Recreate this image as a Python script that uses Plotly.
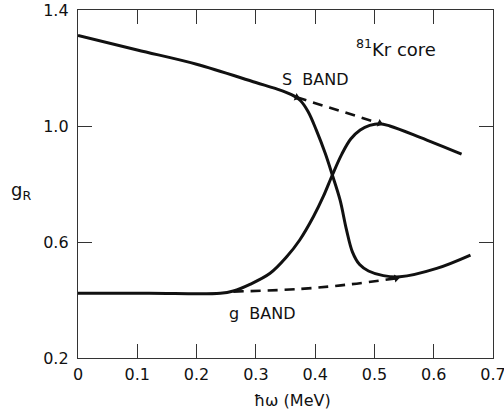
import plotly.graph_objects as go

# Curve A: S band (upper solid) that plunges through the crossing and ends low
curve_a_x = [0.0, 0.10, 0.20, 0.30, 0.335, 0.360, 0.375, 0.388, 0.402, 0.417, 0.429, 0.442, 0.453, 0.463, 0.475, 0.490, 0.515, 0.543, 0.605, 0.662]
curve_a_y = [1.312, 1.262, 1.213, 1.150, 1.128, 1.108, 1.088, 1.050, 0.986, 0.906, 0.831, 0.745, 0.641, 0.565, 0.522, 0.500, 0.484, 0.480, 0.509, 0.555]

# Curve B: g band (lower solid) that rises through the crossing and ends high
curve_b_x = [0.0, 0.12, 0.24, 0.262, 0.290, 0.324, 0.352, 0.374, 0.397, 0.414, 0.429, 0.445, 0.460, 0.476, 0.492, 0.509, 0.526, 0.577, 0.647]
curve_b_y = [0.423, 0.423, 0.423, 0.431, 0.454, 0.492, 0.549, 0.607, 0.687, 0.758, 0.831, 0.903, 0.955, 0.986, 1.002, 1.008, 1.000, 0.961, 0.903]

# Dashed unperturbed continuations
dash_upper_x = [0.369, 0.440, 0.509]
dash_upper_y = [1.099, 1.054, 1.009]
dash_lower_x = [0.262, 0.374, 0.459, 0.537]
dash_lower_y = [0.429, 0.438, 0.454, 0.475]

x_ticks = [0.0, 0.1, 0.2, 0.3, 0.4, 0.5, 0.6, 0.7]
x_tick_labels = ["0", "0.1", "0.2", "0.3", "0.4", "0.5", "0.6", "0.7"]
y_ticks = [0.2, 0.6, 1.0, 1.4]
y_tick_labels = ["0.2", "0.6", "1.0", "1.4"]

INK = "#111111"
FONT = "DejaVu Sans"

fig = go.Figure()
fig.add_trace(go.Scatter(x=curve_a_x, y=curve_a_y, mode="lines",
                         line=dict(color=INK, width=3, shape="spline", smoothing=1.0)))
fig.add_trace(go.Scatter(x=curve_b_x, y=curve_b_y, mode="lines",
                         line=dict(color=INK, width=3, shape="spline", smoothing=1.0)))
fig.add_trace(go.Scatter(x=dash_upper_x, y=dash_upper_y, mode="lines",
                         line=dict(color=INK, width=2.6, dash="10px,7px")))
fig.add_trace(go.Scatter(x=dash_lower_x, y=dash_lower_y, mode="lines",
                         line=dict(color=INK, width=2.6, dash="10px,7px", shape="spline")))
# small arrowheads at the band junctions
fig.add_trace(go.Scatter(
    x=[dash_upper_x[0], dash_upper_x[-1], dash_lower_x[-1]],
    y=[dash_upper_y[0], dash_upper_y[-1], dash_lower_y[-1]],
    mode="markers",
    marker=dict(symbol="triangle-right", size=7, color=INK, angle=[20, 20, -10])))

axis_common = dict(showline=True, linecolor="#333333", linewidth=1.3, mirror="ticks",
                   ticks="inside", ticklen=14, tickwidth=1.2, tickcolor="#333333",
                   showgrid=False, zeroline=False, automargin=False,
                   ticklabeloverflow="allow",
                   tickfont=dict(family=FONT, size=16, color=INK))

fig.update_layout(
    width=504, height=414,
    margin=dict(l=78, r=11, t=10, b=56),
    paper_bgcolor="white", plot_bgcolor="white",
    showlegend=False,
    xaxis=dict(range=[0, 0.7], tickvals=x_ticks, ticktext=x_tick_labels,
               ticklabelstandoff=2, **axis_common),
    yaxis=dict(range=[0.2, 1.4], tickvals=y_ticks, ticktext=y_tick_labels,
               ticklabelstandoff=5, **axis_common),
    annotations=[
        dict(x=0.536, y=1.269, xref="x", yref="y", showarrow=False,
             text="<sup>81</sup>Kr\u00a0core", font=dict(family=FONT, size=18, color=INK)),
        dict(x=0.401, y=1.159, xref="x", yref="y", showarrow=False,
             text="S\u00a0\u00a0BAND", font=dict(family=FONT, size=16, color=INK)),
        dict(x=0.312, y=0.355, xref="x", yref="y", showarrow=False,
             text="g\u00a0\u00a0BAND", font=dict(family=FONT, size=16, color=INK)),
        dict(x=-0.166, y=0.48, xref="paper", yref="paper", showarrow=False,
             xanchor="left",
             text="g<sub>R</sub>", font=dict(family=FONT, size=18, color=INK)),
        dict(x=0.518, y=-0.121, xref="paper", yref="paper", showarrow=False,
             yanchor="middle",
             text="\u0127\u03c9 (MeV)", font=dict(family=FONT, size=16, color=INK)),
    ],
)

fig.write_html("out.html", config={"displayModeBar": False},
               post_script="document.body.style.margin='0';document.body.style.padding='0';")
